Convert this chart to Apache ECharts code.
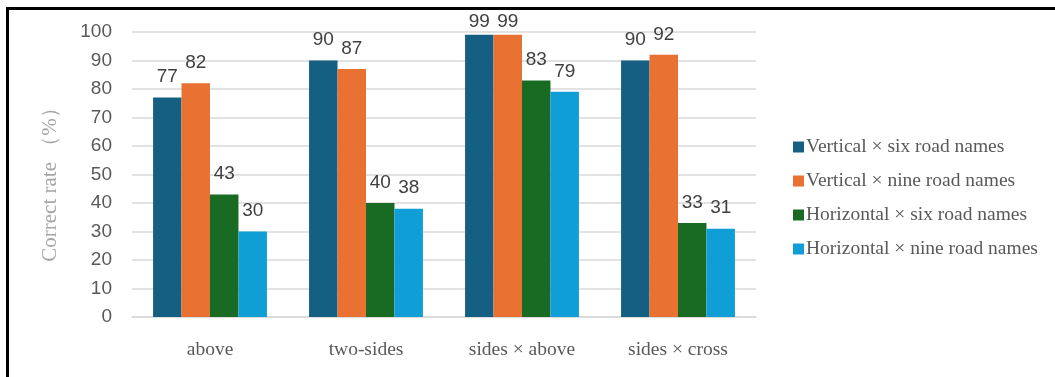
<!DOCTYPE html>
<html>
<head>
<meta charset="utf-8">
<script src="https://cdn.jsdelivr.net/npm/echarts@6/dist/echarts.min.js"></script>
<style>
  html, body { margin: 0; padding: 0; background: #fff; }
  #frame { position: absolute; left: 6px; top: 7px; width: 1055px; height: 380px;
           border-top: 3px solid #000; border-left: 3px solid #000; box-sizing: border-box; }
  #chart { position: absolute; left: 0; top: 0; width: 1055px; height: 377px; }
</style>
</head>
<body>
<div id="frame"></div>
<div id="chart"></div>
<script>
// Correct rate by label placement, for each orientation × road-name count
const categories = ['above', 'two-sides', 'sides × above', 'sides × cross'];
const seriesNames = [
  'Vertical × six road names',
  'Vertical × nine road names',
  'Horizontal × six road names',
  'Horizontal × nine road names'
];
const verticalSix = [77, 90, 99, 90];
const verticalNine = [82, 87, 99, 92];
const horizontalSix = [43, 40, 83, 33];
const horizontalNine = [30, 38, 79, 31];
const yTicks = [0, 10, 20, 30, 40, 50, 60, 70, 80, 90, 100];

const colors = ['#156082', '#E97132', '#196B24', '#0F9ED5'];
const values = [verticalSix, verticalNine, horizontalSix, horizontalNine];

// Labels near the top of the axis sit closer to their bars so they stay inside the frame
const toItems = (arr) => arr.map((v) => v >= 95 ? { value: v, label: { distance: 4 } } : v);

const chart = echarts.init(document.getElementById('chart'));
chart.setOption({
  animation: false,
  grid: { left: 132, right: 299, top: 32, bottom: 60 },
  legend: {
    orient: 'vertical',
    left: 788,
    top: 132,
    itemWidth: 11,
    itemHeight: 11,
    itemGap: 14,
    icon: 'rect',
    textStyle: { fontFamily: 'Liberation Serif', fontSize: 19.5, color: '#595959', padding: [0, 0, 0, -3] },
    data: seriesNames
  },
  xAxis: {
    type: 'category',
    data: categories,
    axisLine: { lineStyle: { color: '#d9d9d9', width: 1.5 } },
    axisTick: { show: false },
    axisLabel: { fontFamily: 'Liberation Serif', fontSize: 19.5, color: '#595959', margin: 23 }
  },
  yAxis: {
    type: 'value',
    min: yTicks[0],
    max: yTicks[yTicks.length - 1],
    interval: 10,
    name: 'Correct rate （%）',
    nameLocation: 'middle',
    nameGap: 71,
    nameTextStyle: { fontFamily: 'Liberation Serif', fontSize: 21, color: '#a6a6a6', padding: [0, 10, 0, 0] },
    axisLine: { show: false },
    axisTick: { show: false },
    axisLabel: { fontFamily: 'Liberation Sans', fontSize: 19, color: '#595959', margin: 20 },
    splitLine: { lineStyle: { color: '#d9d9d9', width: 1.5 } }
  },
  series: values.map((v, i) => ({
    name: seriesNames[i],
    type: 'bar',
    data: toItems(v),
    barGap: '0%',
    barCategoryGap: '27%',
    itemStyle: { color: colors[i] },
    label: {
      show: true,
      position: 'top',
      distance: 11,
      fontFamily: 'Liberation Sans',
      fontSize: 19,
      color: '#404040'
    }
  }))
});
</script>
</body>
</html>
